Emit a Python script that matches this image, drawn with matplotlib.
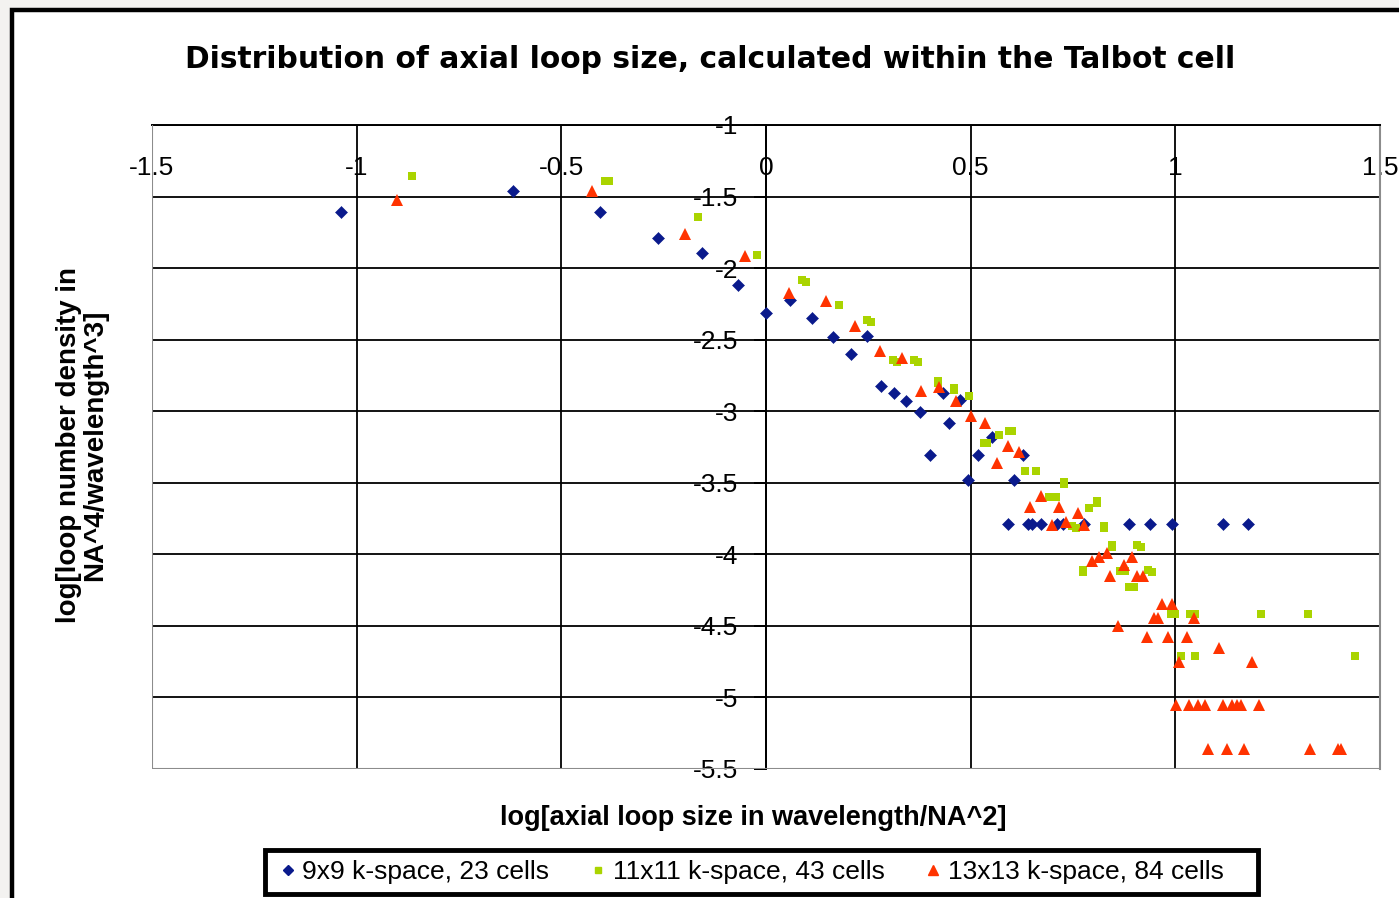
import matplotlib
matplotlib.use("Agg")
import matplotlib.pyplot as plt
from matplotlib.patches import Rectangle
from matplotlib.lines import Line2D

plt.rcParams['font.family'] = ['Liberation Sans', 'DejaVu Sans']

# 9x9 k-space, 23 cells
blue_x = [-1.038, -0.619, -0.406, -0.264, -0.157, -0.069, 0.000, 0.059, 0.113, 0.164,
          0.208, 0.247, 0.282, 0.313, 0.343, 0.375, 0.433, 0.475, 0.448, 0.401,
          0.494, 0.519, 0.553, 0.627, 0.605,
          0.592, 0.639, 0.651, 0.671, 0.712, 0.725, 0.776, 0.886, 0.938, 0.991, 1.116, 1.177]
blue_y = [-1.608, -1.461, -1.608, -1.790, -1.894, -2.118, -2.314, -2.223, -2.349, -2.481,
          -2.600, -2.474, -2.824, -2.873, -2.929, -3.006, -2.873, -2.920, -3.082, -3.306,
          -3.481, -3.306, -3.180, -3.306, -3.481,
          -3.788, -3.788, -3.788, -3.788, -3.788, -3.788, -3.788, -3.788, -3.788, -3.788, -3.788, -3.788]

# 11x11 k-space, 43 cells
green_x = [-0.864, -0.394, -0.384, -0.166, -0.022, 0.088, 0.098, 0.179, 0.247, 0.257,
           0.311, 0.321, 0.362, 0.372, 0.419, 0.419, 0.460, 0.460, 0.497, 0.532,
           0.540, 0.568, 0.593, 0.601, 0.632, 0.659, 0.727, 0.727, 0.692, 0.708,
           0.808, 0.808, 0.788, 0.747, 0.757, 0.825, 0.825, 0.845, 0.845, 0.906,
           0.916, 0.774, 0.774, 0.865, 0.877, 0.933, 0.943, 0.888, 0.900, 0.989,
           0.999, 1.037, 1.049, 1.209, 1.324, 1.013, 1.048, 1.439]
green_y = [-1.356, -1.391, -1.391, -1.643, -1.908, -2.083, -2.097, -2.258, -2.363, -2.377,
           -2.642, -2.656, -2.642, -2.656, -2.789, -2.803, -2.838, -2.852, -2.894, -3.222,
           -3.222, -3.166, -3.138, -3.138, -3.418, -3.418, -3.495, -3.509, -3.600, -3.600,
           -3.628, -3.642, -3.677, -3.803, -3.817, -3.803, -3.817, -3.935, -3.949, -3.935,
           -3.949, -4.110, -4.124, -4.117, -4.117, -4.110, -4.124, -4.229, -4.229, -4.417,
           -4.417, -4.417, -4.417, -4.417, -4.417, -4.711, -4.711, -4.711]

# 13x13 k-space, 84 cells
red_x = [-0.901, -0.424, -0.198, -0.051, 0.056, 0.147, 0.218, 0.279, 0.333, 0.379,
         0.423, 0.465, 0.502, 0.536, 0.592, 0.619, 0.565, 0.673, 0.646, 0.717,
         0.761, 0.734, 0.776, 0.698, 0.832, 0.813, 0.796, 0.894, 0.874, 0.840,
         0.906, 0.920, 0.967, 0.991, 0.947, 0.957, 1.045, 0.859, 0.930, 0.982,
         1.028, 1.106, 1.009, 1.187,
         1.001, 1.033, 1.055, 1.072, 1.116, 1.138, 1.151, 1.160, 1.204,
         1.080, 1.126, 1.168, 1.329, 1.398, 1.405]
red_y = [-1.524, -1.461, -1.762, -1.915, -2.174, -2.230, -2.405, -2.579, -2.628, -2.859,
         -2.831, -2.929, -3.034, -3.082, -3.243, -3.285, -3.362, -3.593, -3.670, -3.670,
         -3.712, -3.774, -3.795, -3.795, -3.991, -4.019, -4.047, -4.019, -4.075, -4.152,
         -4.152, -4.152, -4.347, -4.347, -4.445, -4.445, -4.445, -4.501, -4.578, -4.578,
         -4.578, -4.655, -4.753, -4.753,
         -5.053, -5.053, -5.053, -5.053, -5.053, -5.053, -5.053, -5.053, -5.053,
         -5.361, -5.361, -5.361, -5.361, -5.361, -5.361]

series_labels = ["9x9 k-space, 23 cells", "11x11 k-space, 43 cells", "13x13 k-space, 84 cells"]
x_ticks = [-1.5, -1, -0.5, 0, 0.5, 1, 1.5]
x_tick_labels = ["-1.5", "-1", "-0.5", "0", "0.5", "1", "1.5"]
y_ticks = [-1, -1.5, -2, -2.5, -3, -3.5, -4, -4.5, -5, -5.5]
y_tick_labels = ["-1", "-1.5", "-2", "-2.5", "-3", "-3.5", "-4", "-4.5", "-5", "-5.5"]

BLUE = "#0a1a8c"
GREEN = "#aad400"
RED = "#ff3300"
GRAY = "#8c8c8c"

W, H = 1399, 898
fig = plt.figure(figsize=(W / 100, H / 100), dpi=100)
fig.patch.set_facecolor("#f3f2f0")

# chart frame
fig.patches.append(Rectangle((12 / W, -0.05), 1.2, 1 - 10 / H + 0.05, transform=fig.transFigure,
                             facecolor="white", edgecolor="black", linewidth=3.2, zorder=-10))

ax = fig.add_axes([152 / W, 1 - 769 / H, (1380 - 152) / W, (769 - 125) / H])
ax.set_facecolor("white")
ax.set_xlim(-1.5, 1.5)
ax.set_ylim(-5.5, -1)

ax.plot(blue_x, blue_y, linestyle="none", marker="D", ms=6.6, mfc=BLUE, mec=BLUE, mew=0.4,
        label=series_labels[0], zorder=3)
ax.plot(green_x, green_y, linestyle="none", marker="s", ms=5.8, mfc=GREEN, mec=GREEN, mew=0,
        label=series_labels[1], zorder=4)
ax.plot(red_x, red_y, linestyle="none", marker="^", ms=9.2, mfc=RED, mec=RED, mew=0,
        label=series_labels[2], zorder=5)

# axes cross at x=0 and y=-1
ax.spines['bottom'].set_position(('data', -1))
ax.spines['left'].set_position(('data', 0))
for s in ('bottom', 'left'):
    ax.spines[s].set_color("black")
    ax.spines[s].set_linewidth(1.4)
ax.spines['top'].set_visible(False)
ax.spines['right'].set_color(GRAY)
ax.spines['right'].set_linewidth(1.5)
ax.axvline(-1.5, color=GRAY, lw=1.5, zorder=2.6)
ax.axhline(-5.5, color=GRAY, lw=1.5, zorder=2.6)

ax.set_xticks(x_ticks)
ax.set_xticklabels(x_tick_labels)
ax.set_yticks(y_ticks)
ax.set_yticklabels(y_tick_labels)
ax.tick_params(axis='x', direction='out', length=0, pad=22, labelsize=19, colors="black")
ax.tick_params(axis='y', direction='out', length=8.6, width=1.4, pad=11.5, labelsize=19,
               colors="black")
ax.grid(True, color="black", linewidth=1.3)
ax.set_axisbelow(True)

fig.text(710 / W, 1 - 60 / H, "Distribution of axial loop size, calculated within the Talbot cell",
         ha="center", va="center", fontsize=21.4, fontweight="bold",
         family=["DejaVu Sans"])
fig.text(753 / W, 1 - 818 / H, "log[axial loop size in wavelength/NA^2]",
         ha="center", va="center", fontsize=19.5, fontweight="bold")
fig.text(82 / W, 1 - 445 / H, "log[loop number density in\nNA^4/wavelength^3]",
         ha="center", va="center", rotation=90, fontsize=20, fontweight="bold",
         multialignment="center", linespacing=1.02)

# legend box
fig.patches.append(Rectangle((265 / W, 1 - 894 / H), (1258 - 265) / W, (894 - 850) / H,
                             transform=fig.transFigure, facecolor="white",
                             edgecolor="black", linewidth=3.5, zorder=1))
handles = [
    Line2D([], [], linestyle="none", marker="D", ms=5.0, mfc=BLUE, mec=BLUE),
    Line2D([], [], linestyle="none", marker="s", ms=4.5, mfc=GREEN, mec=GREEN),
    Line2D([], [], linestyle="none", marker="^", ms=7.0, mfc=RED, mec=RED),
]
leg = fig.legend(handles, series_labels, loc="center left", ncol=3,
                 bbox_to_anchor=(280 / W, 1 - 872 / H), frameon=False,
                 fontsize=19, borderaxespad=0, borderpad=0,
                 handlelength=0.6, handletextpad=0.25, columnspacing=1.55)
leg.set_zorder(2)

fig.savefig("out.png", dpi=100, facecolor=fig.get_facecolor())
